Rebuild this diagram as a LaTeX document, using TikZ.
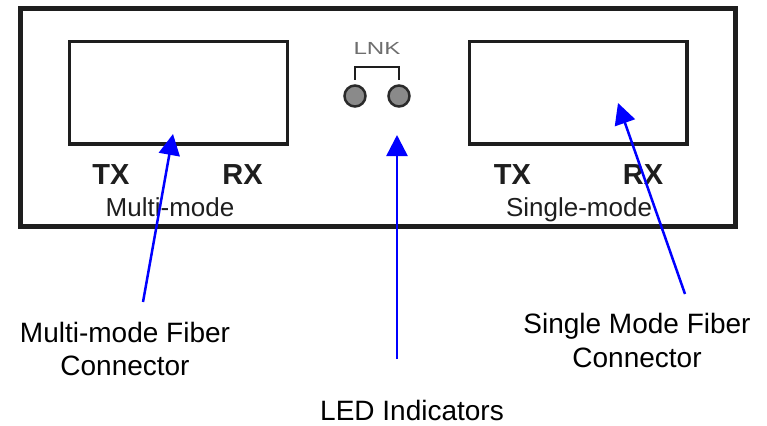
\documentclass[tikz,border=0pt]{standalone}
\usepackage{fontspec}
\setmainfont{Liberation Sans}
\usetikzlibrary{arrows.meta}
\definecolor{arrowblue}{RGB}{0,0,255}
\definecolor{ledfill}{RGB}{138,138,138}
\definecolor{ledline}{RGB}{42,42,42}
\definecolor{lnkgrey}{RGB}{110,110,110}
\definecolor{panelline}{RGB}{30,30,30}
\begin{document}
\begin{tikzpicture}[x=1pt,y=-1pt,
  panel/.style={draw=panelline, line width=5pt},
  port/.style={draw=panelline, line width=3.5pt},
  portlabel/.style={anchor=base, inner sep=0pt, text=panelline, font=\fontsize{29}{30}\selectfont\bfseries},
  modelabel/.style={anchor=base, inner sep=0pt, text=panelline, font=\fontsize{26}{28}\selectfont},
  calllabel/.style={anchor=base, inner sep=0pt, font=\fontsize{28}{30}\selectfont},
  led/.style={circle, draw=ledline, fill=ledfill, line width=2.5pt, minimum size=21pt, inner sep=0pt},
  pointer/.style={draw=arrowblue, line width=2.5pt, -{Triangle[length=21pt,width=21pt]}}
]
\useasboundingbox (0,0) rectangle (767,425);
% panel
\draw[panel] (20,9) rectangle (735.5,226);
% ports
\draw[port] (69.5,41.5) rectangle (287.5,144);
\draw[port] (469.5,41.5) rectangle (687,144);
% port labels
\node[portlabel] (txL) at (111,184) {TX};
\node[portlabel] (rxL) at (242.5,184) {RX};
\node[portlabel] (txR) at (512.5,184) {TX};
\node[portlabel] (rxR) at (643,184) {RX};
\node[modelabel] (mm) at (170,216) {Multi-mode};
\node[modelabel] (sm) at (579,216) {Single-mode};
% LEDs
\node[anchor=base, inner sep=0pt, text=lnkgrey, font=\fontsize{17.5}{18}\selectfont, xscale=1.38] (lnk) at (377,55) {LNK};
\draw[draw=panelline, line width=2.5pt] (355,80) -- (355,67) -- (399,67) -- (399,80);
\node[led] (led1) at (355,96) {};
\node[led] (led2) at (399,96) {};
% callout labels
\node[calllabel] (mmA) at (125,342) {Multi-mode Fiber};
\node[calllabel] (mmB) at (125,375) {Connector};
\node[calllabel] (ledA) at (412,420) {LED Indicators};
\node[calllabel] (smA) at (637,333) {Single Mode Fiber};
\node[calllabel] (smB) at (637,367) {Connector};
% pointer ends
\coordinate (mmTail) at (143,302);
\coordinate (mmTip) at (173,134);
\coordinate (ledTail) at (397,359);
\coordinate (ledTip) at (397,135);
\coordinate (smTail) at (685,294);
\coordinate (smTip) at (618,103);
\draw[pointer] (mmTail) -- (mmTip);
\draw[pointer] (ledTail) -- (ledTip);
\draw[pointer] (smTail) -- (smTip);
\end{tikzpicture}
\end{document}
